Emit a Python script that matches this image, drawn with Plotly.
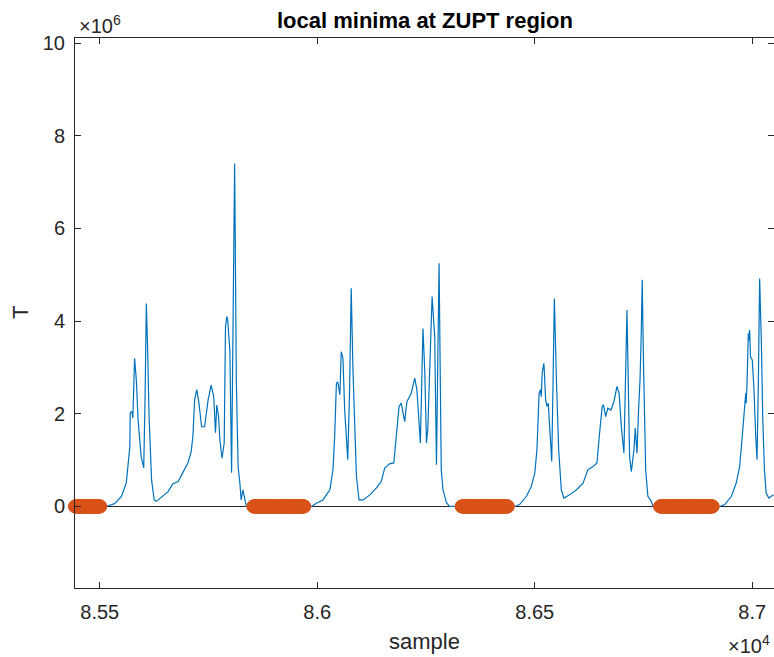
import numpy as np
import plotly.graph_objects as go

# ---- data ----
sample = [
    85443, 85518, 85534, 85550, 85561, 85565, 85569, 85570, 85574, 85576,
    85580, 85584, 85588, 85595, 85601, 85604, 85607, 85610, 85613, 85619,
    85625, 85630, 85641, 85657, 85668, 85680, 85691, 85703, 85710, 85714,
    85718, 85723, 85728, 85734, 85741, 85749, 85756, 85762, 85766, 85769,
    85773, 85776, 85781, 85786, 85789, 85792, 85794, 85799, 85803, 85806,
    85810, 85814, 85818, 85822, 85825, 85829, 85833, 85837,
    85987, 85998, 86013, 86029, 86036, 86040, 86044, 86047, 86052, 86055,
    86059, 86063, 86070, 86074, 86078, 86082, 86090, 86096, 86105, 86121,
    86136, 86147, 86155, 86166, 86176, 86182, 86188, 86193, 86201, 86206,
    86216, 86224, 86229, 86237, 86243, 86247, 86251, 86254, 86264, 86270,
    86274, 86280, 86285, 86289, 86297, 86304,
    86454, 86465, 86481, 86492, 86500, 86505, 86510, 86513, 86515, 86517,
    86521, 86525, 86528, 86531, 86536, 86539, 86542, 86545, 86550, 86555,
    86561, 86567, 86580, 86596, 86611, 86622, 86634, 86643, 86649, 86655,
    86658, 86663, 86668, 86675, 86682, 86689, 86694, 86699, 86705, 86709,
    86712, 86715, 86718, 86722, 86728, 86731, 86735, 86739, 86742, 86745,
    86747, 86750, 86755, 86760, 86768, 86772,
    86925, 86937, 86952, 86963, 86971, 86977, 86983, 86985, 86986, 86988,
    86991, 86992, 86994, 86996, 87000, 87004, 87008, 87011, 87014, 87017,
    87021, 87024, 87028, 87032, 87038, 87043, 87049,
]
T_millions = [
    0.00, 0.01, 0.06, 0.22, 0.51, 0.86, 1.29, 2.02, 2.05, 1.91,
    3.20, 2.73, 1.87, 1.08, 0.83, 2.30, 4.38, 3.38, 2.02, 0.58,
    0.14, 0.11, 0.19, 0.32, 0.49, 0.54, 0.73, 0.95, 1.18, 1.51,
    2.30, 2.52, 2.23, 1.72, 1.72, 2.30, 2.62, 2.37, 1.59, 2.19,
    1.94, 1.44, 1.04, 1.37, 3.88, 4.10, 4.02, 3.38, 0.73, 4.31,
    7.40, 2.67, 0.86, 0.51, 0.14, 0.36, 0.14, 0.00,
    0.00, 0.07, 0.14, 0.36, 0.79, 1.51, 2.66, 2.69, 2.41, 3.34,
    3.20, 2.08, 1.01, 2.37, 4.71, 2.95, 0.65, 0.14, 0.14, 0.25,
    0.40, 0.54, 0.83, 0.92, 0.94, 1.51, 2.16, 2.23, 1.83, 2.26,
    2.44, 2.77, 2.52, 1.37, 3.84, 2.95, 1.37, 1.65, 4.53, 3.66,
    0.90, 5.25, 0.79, 0.36, 0.08, 0.00,
    0.00, 0.04, 0.22, 0.43, 0.72, 1.22, 2.44, 2.52, 2.37, 2.88,
    3.09, 2.30, 2.16, 2.23, 1.51, 0.97, 2.66, 4.49, 2.66, 1.22,
    0.36, 0.18, 0.25, 0.36, 0.50, 0.79, 0.86, 0.94, 1.58, 2.16,
    2.19, 1.94, 2.12, 2.08, 2.26, 2.59, 2.44, 1.72, 1.15, 2.66,
    4.24, 2.66, 1.08, 0.75, 1.22, 1.69, 1.15, 2.16, 2.73, 3.81,
    4.89, 3.09, 0.79, 0.22, 0.11, 0.00,
    0.00, 0.04, 0.22, 0.50, 0.86, 1.51, 2.37, 2.44, 2.23, 2.66,
    3.74, 3.59, 3.81, 3.23, 3.16, 2.52, 1.51, 1.01, 2.66, 4.92,
    3.52, 1.94, 0.79, 0.29, 0.18, 0.22, 0.25,
]
zupt_start = [85443, 85853, 86332, 86788]
zupt_end = [85501, 85970, 86438, 86909]

x_tickvals = [85500, 86000, 86500, 87000]
x_ticktext = ["8.55", "8.6", "8.65", "8.7"]
y_tickvals = [0, 2e6, 4e6, 6e6, 8e6, 10e6]
y_ticktext = ["0", "2", "4", "6", "8", "10"]

x_range = [85443, 87050]
y_range = [-1.76e6, 10.11e6]

T = np.array(T_millions) * 1e6
zupt_x = np.concatenate([np.arange(s, e + 1) for s, e in zip(zupt_start, zupt_end)])
zupt_y = np.zeros(len(zupt_x))

AX = "#262626"
FONT = "Liberation Sans, Arial, Helvetica, sans-serif"

fig = go.Figure()
fig.add_trace(go.Scatter(
    x=sample, y=T, mode="lines",
    line=dict(color="#0072BD", width=1.2),
    showlegend=False, hoverinfo="skip",
))
fig.add_trace(go.Scatter(
    x=zupt_x, y=zupt_y, mode="markers",
    marker=dict(color="#D95319", size=13, line=dict(color="#D95319", width=1)),
    cliponaxis=False, showlegend=False, hoverinfo="skip",
))

W, H = 774, 657
ml, mr, mt, mb = 75, 0, 38, 69
ph = H - mt - mb
pw = W - ml - mr

fig.update_layout(
    width=W, height=H,
    margin=dict(l=ml, r=mr, t=mt, b=mb),
    paper_bgcolor="white", plot_bgcolor="white",
    font=dict(family=FONT, color=AX, size=20),
    xaxis=dict(
        range=x_range, tickvals=x_tickvals, ticktext=x_ticktext,
        showgrid=False, zeroline=False,
        showline=True, linecolor=AX, linewidth=1, mirror="ticks",
        ticks="inside", ticklen=6, tickcolor=AX, tickwidth=1,
        tickfont=dict(size=20, color=AX), ticklabelstandoff=6,
    ),
    yaxis=dict(
        range=y_range, tickvals=y_tickvals, ticktext=y_ticktext,
        showgrid=False, zeroline=True, zerolinecolor=AX, zerolinewidth=1,
        showline=True, linecolor=AX, linewidth=1, mirror="ticks",
        ticks="inside", ticklen=6, tickcolor=AX, tickwidth=1,
        tickfont=dict(size=20, color=AX), ticklabelstandoff=5,
    ),
)

def py(pix):
    return 1 - (pix - mt) / ph

def px(pix):
    return (pix - ml) / pw

annots = [
    dict(text="<b>local minima at ZUPT region</b>", x=0.5, y=py(20), xref="paper", yref="paper",
         xanchor="center", yanchor="middle", showarrow=False, font=dict(size=22, color="black")),
    dict(text="sample", x=0.5, y=py(641), xref="paper", yref="paper",
         xanchor="center", yanchor="middle", showarrow=False, font=dict(size=22, color=AX)),
    dict(text="T", x=px(20), y=py(313), xref="paper", yref="paper",
         xanchor="center", yanchor="middle", textangle=-90, showarrow=False, font=dict(size=22, color=AX)),
    dict(text="×10<sup>6</sup>", x=px(77), y=py(24), xref="paper", yref="paper",
         xanchor="left", yanchor="middle", showarrow=False, font=dict(size=20, color=AX)),
    dict(text="×10<sup>4</sup>", x=px(772), y=py(645), xref="paper", yref="paper",
         xanchor="right", yanchor="middle", showarrow=False, font=dict(size=20, color=AX)),
]
fig.update_layout(annotations=annots)

fig.write_html(
    "out.html",
    config={"displayModeBar": False},
    post_script="document.body.style.margin='0';document.body.style.overflow='hidden';",
)
